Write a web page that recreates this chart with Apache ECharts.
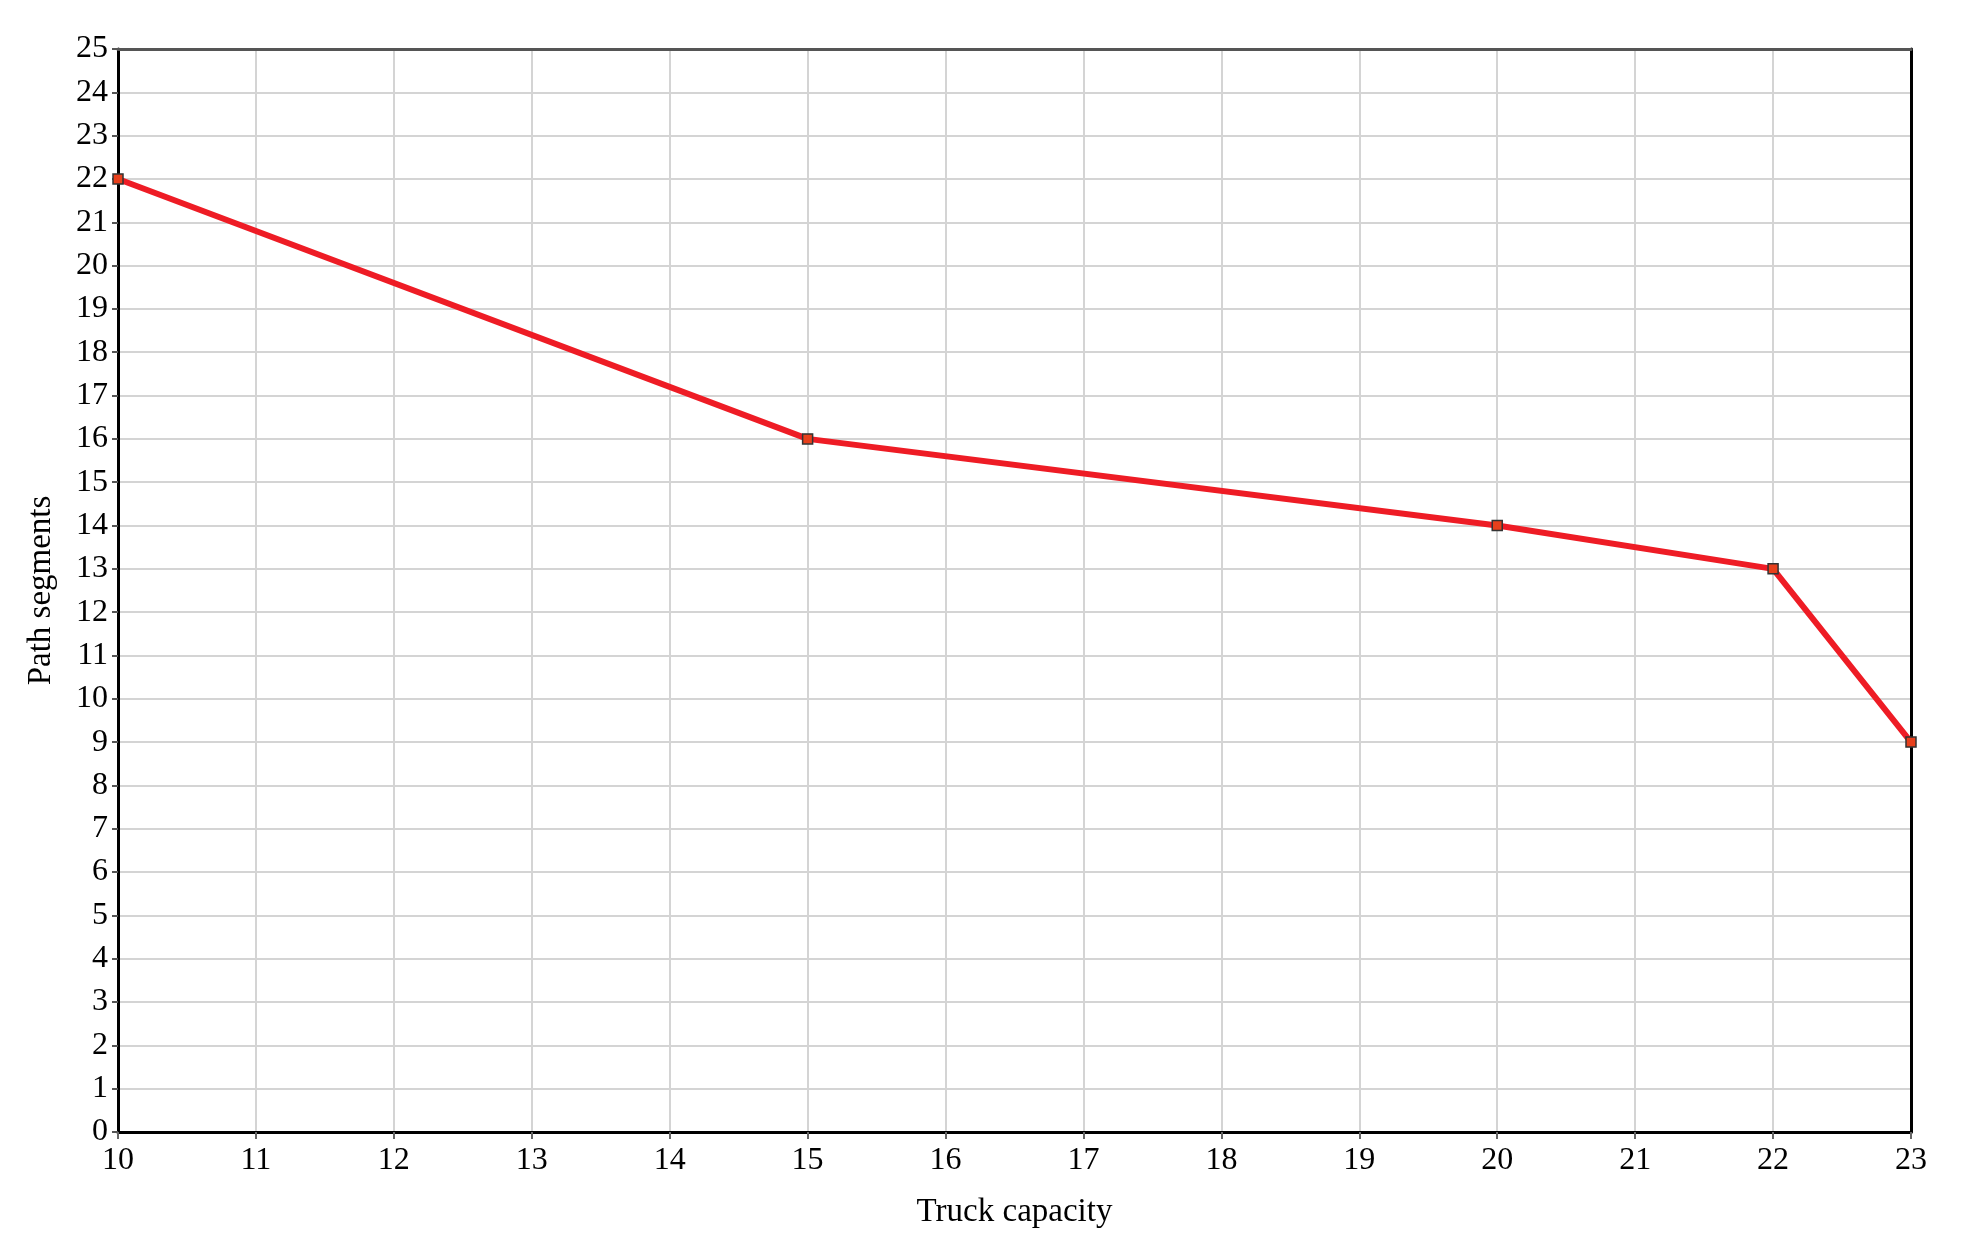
<!DOCTYPE html>
<html>
<head>
<meta charset="utf-8">
<script src="https://cdn.jsdelivr.net/npm/echarts@6/dist/echarts.min.js"></script>
<style>
  html, body { margin: 0; padding: 0; background: #fff; }
  #chart { width: 1976px; height: 1252px; }
</style>
</head>
<body>
<div id="chart"></div>
<script>
// truck capacity vs path segments
const capacity = [10, 15, 20, 22, 23];
const segments = [22, 16, 14, 13, 9];

const font = "'Liberation Serif', 'DejaVu Serif', serif";
const gridLine = { show: true, lineStyle: { color: "#d4d4d4", width: 2 } };

let chart = echarts.init(document.getElementById("chart"));
chart.setOption({
  animation: false,
  grid: { left: 118, right: 65, top: 49, bottom: 120 },
  xAxis: [
    {
      type: "value",
      min: 10,
      max: 23,
      interval: 1,
      name: "Truck capacity",
      nameLocation: "middle",
      nameGap: 64,
      nameTextStyle: { fontFamily: font, fontSize: 33, color: "#000" },
      axisLine: { onZero: false, lineStyle: { color: "#000", width: 3 } },
      axisTick: { length: 7, lineStyle: { color: "#666", width: 2 } },
      axisLabel: { fontFamily: font, fontSize: 32, color: "#000", margin: 13 },
      splitLine: gridLine
    },
    {
      type: "value",
      position: "top",
      min: 10,
      max: 23,
      interval: 1,
      axisLine: { show: true, onZero: false, lineStyle: { color: "#555", width: 3 } },
      axisTick: { show: false },
      axisLabel: { show: false },
      splitLine: { show: false }
    }
  ],
  yAxis: [
    {
      type: "value",
      min: 0,
      max: 25,
      interval: 1,
      name: "Path segments",
      nameLocation: "middle",
      nameGap: 60,
      nameTextStyle: { fontFamily: font, fontSize: 33, color: "#000" },
      axisLine: { show: true, onZero: false, lineStyle: { color: "#000", width: 3 } },
      axisTick: { show: true, length: 6, lineStyle: { color: "#555", width: 2 } },
      axisLabel: { fontFamily: font, fontSize: 32, color: "#000", margin: 10 },
      splitLine: gridLine
    },
    {
      type: "value",
      position: "right",
      min: 0,
      max: 25,
      interval: 1,
      axisLine: { show: true, onZero: false, lineStyle: { color: "#000", width: 3 } },
      axisTick: { show: false },
      axisLabel: { show: false },
      splitLine: { show: false }
    }
  ],
  series: [
    {
      type: "line",
      data: capacity.map((c, i) => [c, segments[i]]),
      lineStyle: { color: "#ee1c25", width: 6 },
      symbol: "rect",
      symbolSize: 10,
      itemStyle: { color: "#e8401c", borderColor: "#333", borderWidth: 1.5 },
      z: 5
    }
  ]
});
</script>
</body>
</html>
